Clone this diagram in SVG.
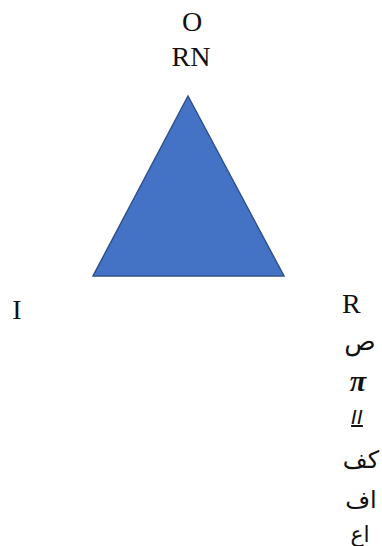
<svg xmlns="http://www.w3.org/2000/svg" width="382" height="546" viewBox="0 0 382 546">
<style>
.lbl{font-family:"Liberation Serif","Times New Roman",serif;font-size:28px;fill:#111}
.hw{font-family:"DejaVu Sans",sans-serif;fill:#111;text-anchor:middle}
</style>
<rect width="382" height="546" fill="#fff"/>
<g id="triangle">
<polygon points="188,96 93,276 284,276" fill="#4472C4" stroke="#2F528F" stroke-width="1.5" stroke-linejoin="miter"/>
</g>
<g id="connectors"></g>
<g id="label-top">
<text class="lbl" x="192" y="31" text-anchor="middle">O</text>
<text class="lbl" x="191" y="66" text-anchor="middle">RN</text>
</g>
<g id="label-left">
<text class="lbl" x="17" y="319" text-anchor="middle">I</text>
</g>
<g id="label-right">
<text class="lbl" x="342" y="313">R</text>
<text class="hw" x="360" y="350" font-size="26">ص</text>
<text class="hw" x="358" y="391" style="font-family:'Liberation Serif',serif;font-size:30px;font-style:italic;font-weight:bold">π</text>
<text class="hw" x="357" y="424" font-size="20" font-style="italic" text-decoration="underline">II</text>
<text class="hw" x="361" y="468" font-size="24">كف</text>
<text class="hw" x="361" y="508" font-size="24">اف</text>
<text class="hw" x="360" y="542" font-size="22">اع</text>
</g>
</svg>
